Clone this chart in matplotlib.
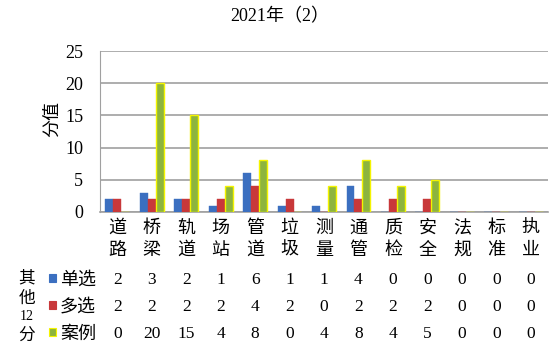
import numpy as np
import matplotlib.pyplot as plt
from matplotlib.patches import Rectangle

plt.rcParams['font.family'] = ['Liberation Serif', 'Noto Sans CJK SC', 'DejaVu Sans']

categories = ['道路', '桥梁', '轨道', '场站', '管道', '垃圾', '测量',
              '通管', '质检', '安全', '法规', '标准', '执业']
series_names = ['单选', '多选', '案例']
single = [2, 3, 2, 1, 6, 1, 1, 4, 0, 0, 0, 0, 0]
multi = [2, 2, 2, 2, 4, 2, 0, 2, 2, 2, 0, 0, 0]
case = [0, 20, 15, 4, 8, 0, 4, 8, 4, 5, 0, 0, 0]
yticks = [0, 5, 10, 15, 20, 25]

colors = ['#3b6fc0', '#c8383a', '#8db43e']
edges = ['#3b6fc0', '#c8383a', '#f4f400']

W, H = 558, 358
fig = plt.figure(figsize=(W / 100, H / 100), dpi=100)
ax = fig.add_axes([100 / W, (H - 212) / H, 448 / W, 161 / H])

x = np.arange(len(categories))
bw = 0.23
for k, vals in enumerate([single, multi, case]):
    ax.bar(x + (k - 1) * bw, vals, width=bw, color=colors[k],
           edgecolor=edges[k], linewidth=1.0 if k == 2 else 0.3, zorder=3)

ax.set_xlim(-0.5, len(categories) - 0.5)
ax.set_ylim(0, 25)
ax.set_yticks(yticks)
ax.yaxis.grid(True, color='#a0a0a0', linewidth=1.2)
ax.set_axisbelow(True)
for s in ['top', 'right']:
    ax.spines[s].set_visible(False)
ax.spines['left'].set_color('#a0a0a0')
ax.spines['bottom'].set_color('#a0a0a0')
ax.spines['bottom'].set_linewidth(1.2)
ax.tick_params(axis='y', length=0, labelsize=13, pad=12)
ax.tick_params(axis='x', length=0)
ax.set_xticks([])

ax.set_ylabel('分值', fontsize=13, labelpad=2, family=['Noto Sans CJK SC'])
ax.yaxis.set_label_coords(-0.088, 0.58)

fig.text(280 / W, 1 - 17 / H, '2021年（2）', ha='center', va='center', fontsize=13)

trans = ax.get_xaxis_transform()
ypix = lambda y: 1 - (y - 51) / 161.0

# category labels, stacked vertically
for i, c in enumerate(categories):
    ax.text(i, ypix(228), c[0], transform=trans, ha='center', va='center',
            fontsize=13, family=['Noto Sans CJK SC'])
    ax.text(i, ypix(250), c[1], transform=trans, ha='center', va='center',
            fontsize=13, family=['Noto Sans CJK SC'])

# data table
row_y = [280, 307, 334]
for r, vals in enumerate([single, multi, case]):
    for i, v in enumerate(vals):
        ax.text(i, ypix(row_y[r]), str(v), transform=trans, ha='center',
                va='center', fontsize=12.5)
    fig.patches.append(Rectangle((49 / W, 1 - (row_y[r] + 2) / H), 7 / W, 8 / H,
                                 transform=fig.transFigure, facecolor=colors[r],
                                 edgecolor=edges[r], linewidth=0.8))
    fig.text(60 / W, 1 - row_y[r] / H, series_names[r], ha='left', va='center',
             fontsize=13, family=['Noto Sans CJK SC'])

fig.text(27 / W, 1 - 278 / H, '其', ha='center', va='center', fontsize=12, family=['Noto Sans CJK SC'])
fig.text(27 / W, 1 - 298 / H, '他', ha='center', va='center', fontsize=12, family=['Noto Sans CJK SC'])
fig.text(27 / W, 1 - 316 / H, '12', ha='center', va='center', fontsize=10)
fig.text(27 / W, 1 - 335 / H, '分', ha='center', va='center', fontsize=12, family=['Noto Sans CJK SC'])

fig.savefig('out.png', dpi=100)
